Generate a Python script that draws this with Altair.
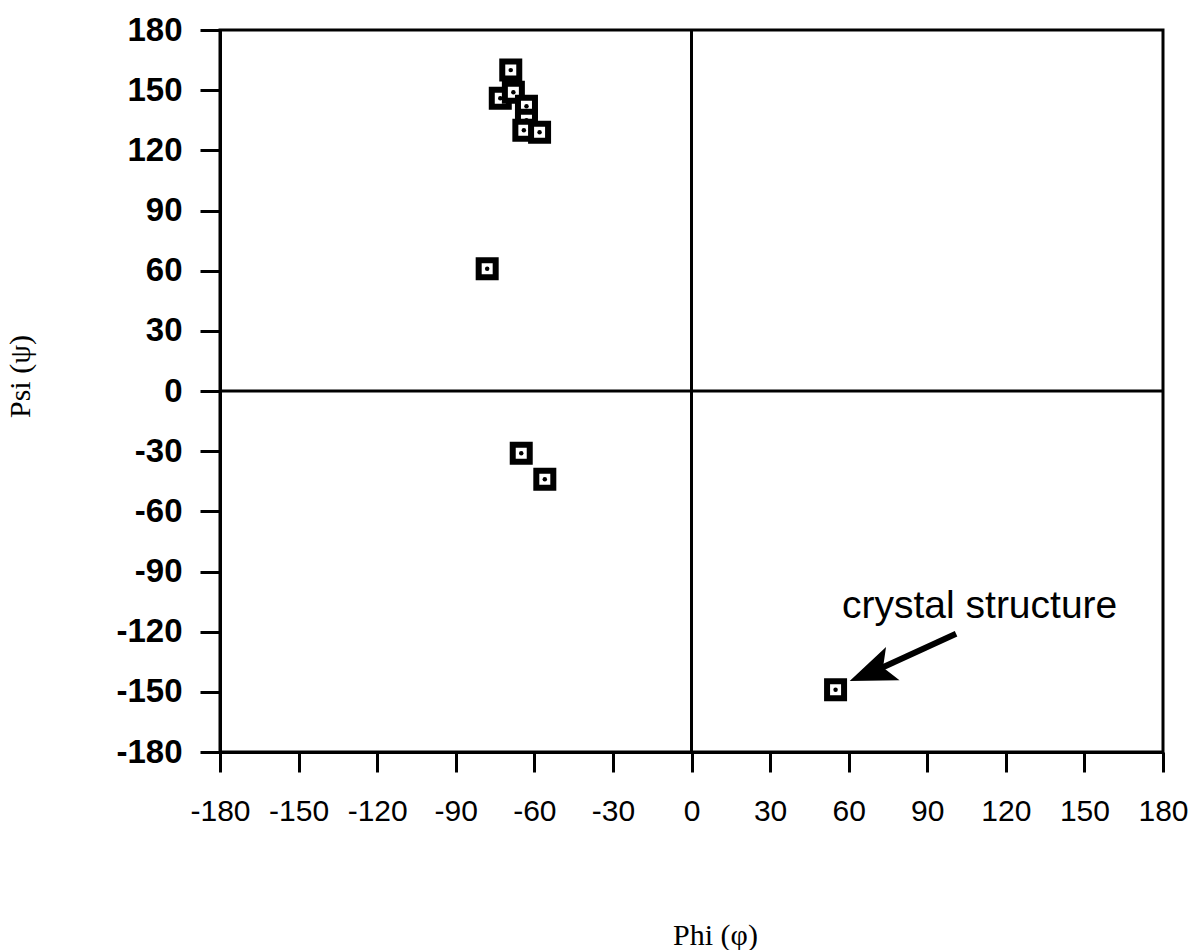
import altair as alt
import pandas as pd

# Backbone dihedral angles (degrees) for each residue conformation
phi = [-69, -73, -68, -63, -63, -64, -58, -78, -65, -56, 55]
psi = [160, 146, 149, 142, 135, 130, 129, 61, -31, -44, -149]

tick_values = [-180, -150, -120, -90, -60, -30, 0, 30, 60, 90, 120, 150, 180]

# Callout for the crystal-structure conformation
note_text = ["crystal structure"]
note_phi = [110]
note_psi = [-107]
arrow_tail_phi = [101]
arrow_tail_psi = [-121]
arrow_head_phi = [71]
arrow_head_psi = [-139]

points = pd.DataFrame({"phi": phi, "psi": psi})
zero = pd.DataFrame({"v": [0]})
note = pd.DataFrame({"label": note_text, "phi": note_phi, "psi": note_psi})
arrow = pd.DataFrame({
    "phi": arrow_tail_phi, "psi": arrow_tail_psi,
    "phi2": arrow_head_phi, "psi2": arrow_head_psi,
})

x_scale = alt.Scale(domain=[-180, 180], nice=False, zero=False)
y_scale = alt.Scale(domain=[-180, 180], nice=False, zero=False)

# plain hyphen-minus in tick labels
plain_label = "toString(datum.value)"

x_axis = alt.Axis(
    values=tick_values, grid=False, labelExpr=plain_label,
    labelFont="Liberation Sans", labelFontSize=30, labelColor="black",
    labelPadding=24, labelFlush=False, labelOverlap=False,
    tickSize=20, tickWidth=3, tickColor="black",
    domainColor="black", domainWidth=3,
    title="Phi (φ)", titleFont="Liberation Serif", titleFontSize=30,
    titleFontWeight="normal", titleColor="black",
    titleX=495, titleY=183, titleAlign="center", titleBaseline="middle",
)
y_axis = alt.Axis(
    values=tick_values, grid=False, labelExpr=plain_label,
    labelFont="Liberation Sans", labelFontSize=33, labelFontWeight="bold",
    labelColor="black", labelPadding=18, labelFlush=False, labelOverlap=False,
    tickSize=20, tickWidth=3, tickColor="black",
    domainColor="black", domainWidth=3,
    title="Psi (ψ)", titleFont="Liberation Serif", titleFontSize=30,
    titleFontWeight="normal", titleColor="black",
    titleX=-200, titleY=346, titleAngle=270,
    titleAlign="center", titleBaseline="middle",
)


def xenc(field):
    return alt.X(field, type="quantitative", scale=x_scale, axis=x_axis)


def yenc(field):
    return alt.Y(field, type="quantitative", scale=y_scale, axis=y_axis)


vline = alt.Chart(zero).mark_rule(color="black", strokeWidth=3).encode(
    x=xenc("v")
)
hline = alt.Chart(zero).mark_rule(color="black", strokeWidth=3).encode(
    y=yenc("v")
)

squares = alt.Chart(points).mark_point(
    shape="square", size=289, fill="white", stroke="black",
    strokeWidth=6, opacity=1, fillOpacity=1,
).encode(x=xenc("phi"), y=yenc("psi"))

dots = alt.Chart(points).mark_point(
    shape="circle", size=20, filled=True, color="black", opacity=1,
).encode(x=xenc("phi"), y=yenc("psi"))

shaft = alt.Chart(arrow).mark_rule(color="black", strokeWidth=6).encode(
    x=xenc("phi"),
    y=yenc("psi"),
    x2="phi2:Q",
    y2="psi2:Q",
)

head = alt.Chart(arrow).mark_point(
    shape="M0,-1L0.6,0.55L0,0.2L-0.6,0.55Z",
    size=3600, angle=248, filled=True, color="black", opacity=1,
).encode(x=xenc("phi2"), y=yenc("psi2"))

label = alt.Chart(note).mark_text(
    font="Liberation Sans", fontSize=39, color="black",
    align="center", baseline="middle",
).encode(x=xenc("phi"), y=yenc("psi"), text="label:N")

chart = alt.layer(vline, hline, shaft, head, squares, dots, label).properties(
    width=943,
    height=722,
    autosize="none",
    padding={"left": 220, "top": 30, "right": 28, "bottom": 198},
    background="white",
).configure_view(
    stroke="black", strokeWidth=3
)

chart.save("out.html", embed_options={"renderer": "svg", "actions": False})
